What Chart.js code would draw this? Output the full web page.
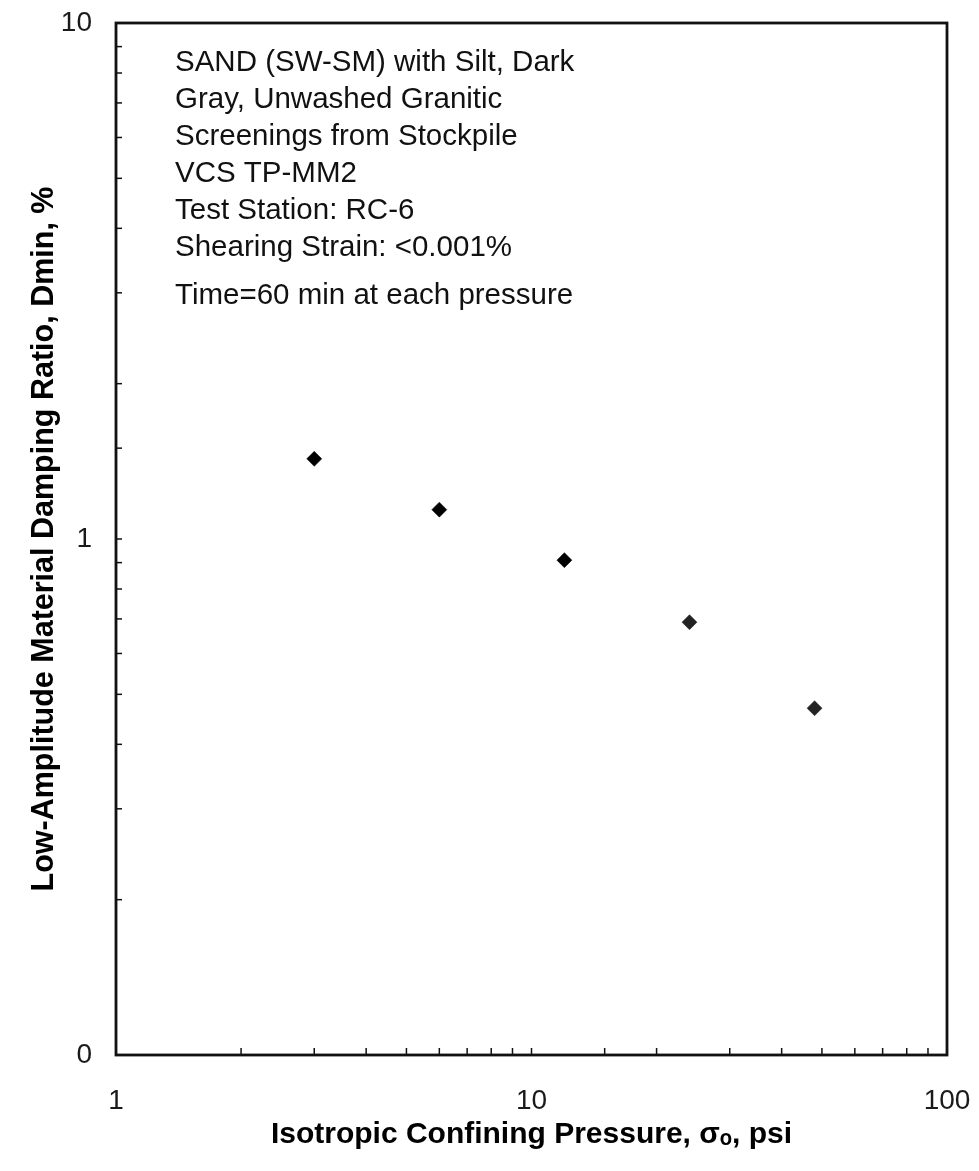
<!DOCTYPE html>
<html>
<head>
<meta charset="utf-8">
<script src="https://cdn.jsdelivr.net/npm/chart.js@4.4.0/dist/chart.umd.min.js"></script>
<style>
  html, body { margin: 0; padding: 0; background: #fff; }
  #wrap { width: 979px; height: 1171px; position: relative; }
</style>
</head>
<body>
<div id="wrap"><canvas id="c" width="979" height="1171"></canvas></div>
<script>
// ---- data ----
const pressures = [3, 6, 12, 24, 48];              // psi
const dampingMin = [1.43, 1.14, 0.91, 0.69, 0.47]; // %
const xTickLabels = {1: '1', 10: '10', 100: '100'};
const yTickLabels = {0.1: '0', 1: '1', 10: '10'};
const noteLines = [
  'SAND (SW-SM) with Silt, Dark',
  'Gray, Unwashed Granitic',
  'Screenings from Stockpile',
  'VCS TP-MM2',
  'Test Station: RC-6',
  'Shearing Strain: <0.001%'
];
const noteLast = 'Time=60 min at each pressure';
const xTitle = 'Isotropic Confining Pressure, σₒ, psi';
const yTitle = 'Low-Amplitude Material Damping Ratio, Dmin, %';

const FONT = '"Liberation Sans", Arial, sans-serif';

function labelFor(map, v) {
  for (const k in map) {
    if (Math.abs(Math.log10(v) - Math.log10(+k)) < 1e-6) return map[k];
  }
  return '';
}

const frame = {
  id: 'frame',
  afterDraw(chart) {
    const ctx = chart.ctx;
    const a = chart.chartArea;
    const xs = chart.scales.x, ys = chart.scales.y;
    ctx.save();
    ctx.strokeStyle = '#111';
    // minor ticks, inward
    ctx.lineWidth = 1.5;
    xs.ticks.forEach(t => {
      const px = xs.getPixelForValue(t.value);
      if (px <= a.left + 1 || px >= a.right - 1) return;
      ctx.beginPath();
      ctx.moveTo(px, a.bottom);
      ctx.lineTo(px, a.bottom - 7);
      ctx.stroke();
    });
    ys.ticks.forEach(t => {
      const py = ys.getPixelForValue(t.value);
      if (py <= a.top + 1 || py >= a.bottom - 1) return;
      ctx.beginPath();
      ctx.moveTo(a.left, py);
      ctx.lineTo(a.left + 6, py);
      ctx.stroke();
    });
    // box
    ctx.lineWidth = 2.8;
    ctx.strokeRect(a.left, a.top, a.right - a.left, a.bottom - a.top);
    // note text
    ctx.fillStyle = '#111';
    ctx.font = '29.5px ' + FONT;
    ctx.textAlign = 'left';
    ctx.textBaseline = 'alphabetic';
    noteLines.forEach((s, i) => ctx.fillText(s, 175, 71 + i * 37));
    ctx.fillText(noteLast, 175, 71 + 5 * 37 + 48);
    ctx.restore();
  }
};

new Chart(document.getElementById('c'), {
  type: 'scatter',
  data: {
    datasets: [{
      data: pressures.map((p, i) => ({x: p, y: dampingMin[i]})),
      pointStyle: 'rectRot',
      pointRadius: 7.5,
      pointHoverRadius: 7.5,
      backgroundColor: ['#000', '#000', '#000', '#222', '#222'],
      borderColor: ['#000', '#000', '#000', '#222', '#222'],
      borderWidth: 0.5,
      showLine: false
    }]
  },
  options: {
    responsive: false,
    animation: false,
    events: [],
    layout: { padding: { left: 0, top: 23, right: 32, bottom: 0 } },
    plugins: { legend: { display: false }, tooltip: { enabled: false } },
    scales: {
      x: {
        type: 'logarithmic',
        min: 1, max: 100,
        afterFit(s) { s.height = 116; s.paddingLeft = 0; s.paddingRight = 0; },
        grid: { display: false, drawTicks: false },
        border: { display: false },
        ticks: {
          autoSkip: false, maxRotation: 0, padding: 29,
          color: '#1a1a1a',
          font: { family: FONT, size: 28 },
          callback: (v) => labelFor(xTickLabels, v)
        },
        title: {
          display: true, text: xTitle, color: '#000',
          font: { family: FONT, size: 30, weight: 'bold' },
          padding: { top: 0, bottom: 18 }
        }
      },
      y: {
        type: 'logarithmic',
        min: 0.1, max: 10,
        afterFit(s) { s.width = 116; s.paddingTop = 0; s.paddingBottom = 0; },
        grid: { display: false, drawTicks: false },
        border: { display: false },
        ticks: {
          autoSkip: false, padding: 24,
          color: '#1a1a1a',
          font: { family: FONT, size: 28 },
          callback: (v) => labelFor(yTickLabels, v)
        },
        title: {
          display: true, text: yTitle, color: '#000',
          font: { family: FONT, size: 30.5, weight: 'bold' },
          padding: { top: 26, bottom: 0 }
        }
      }
    }
  },
  plugins: [frame]
});
</script>
</body>
</html>
